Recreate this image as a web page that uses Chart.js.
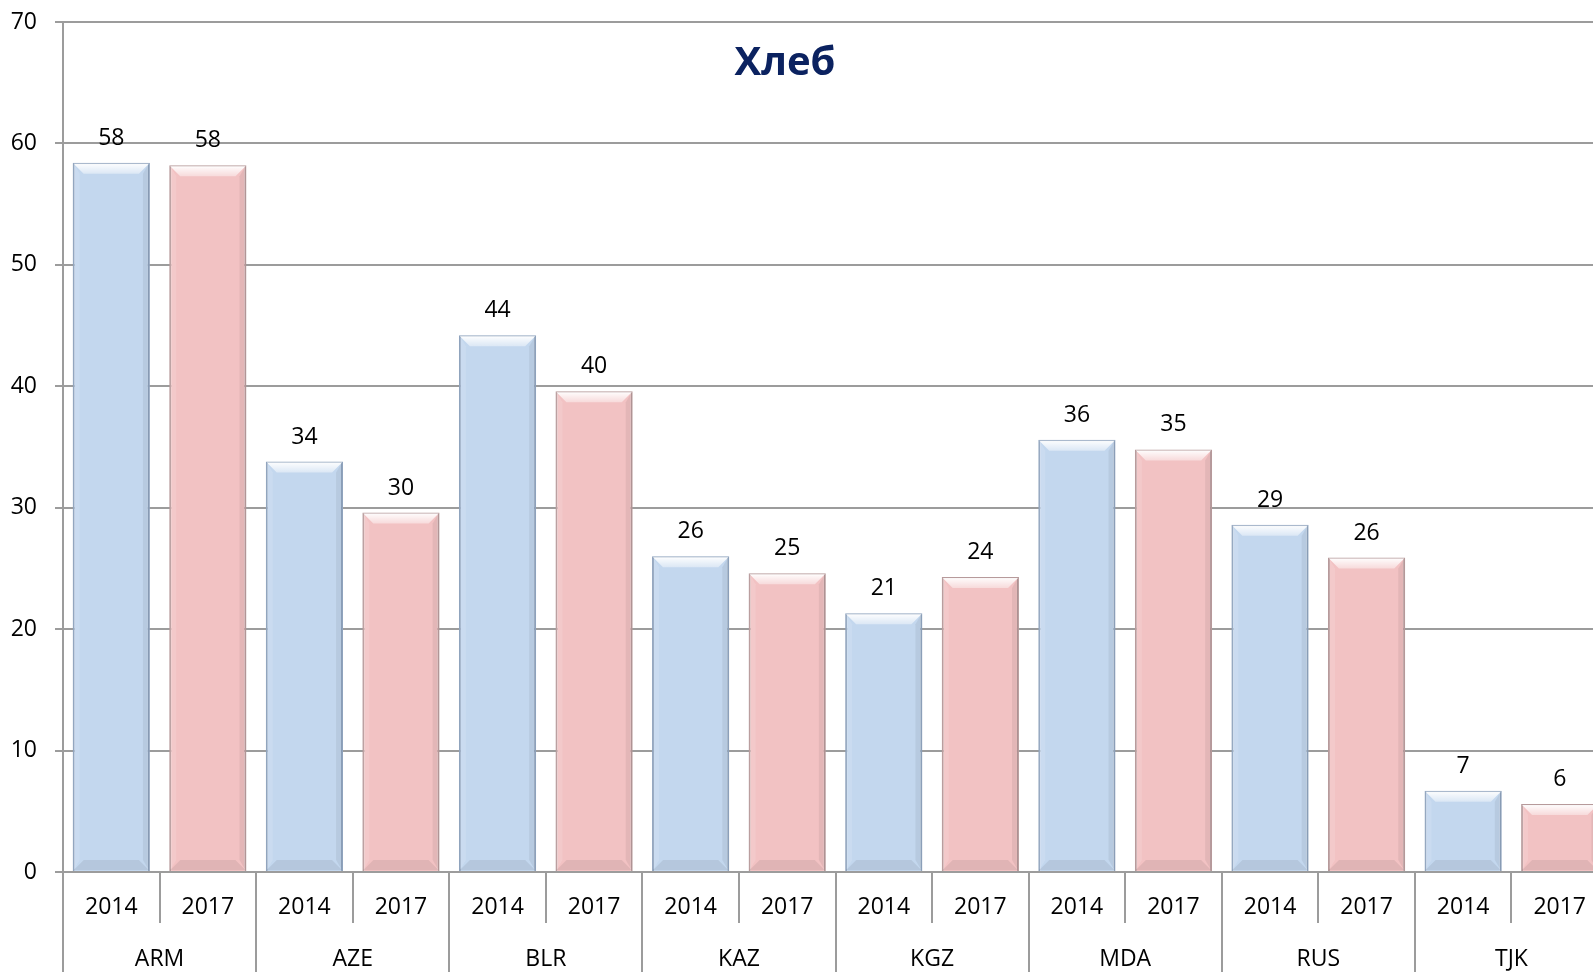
<!DOCTYPE html>
<html>
<head>
<meta charset="utf-8">
<script src="https://cdn.jsdelivr.net/npm/chart.js@4.4.1/dist/chart.umd.min.js"></script>
<style>
  html, body { margin: 0; padding: 0; overflow: hidden; background: #fff; }
  canvas { display: block; }
</style>
</head>
<body>
<canvas id="canvas" width="1608" height="972"></canvas>
<script>
var countries = ['ARM', 'AZE', 'BLR', 'KAZ', 'KGZ', 'MDA', 'RUS', 'TJK'];
var years = ['2014', '2017'];
var values2014 = [58.4, 33.8, 44.2, 26.0, 21.3, 35.6, 28.6, 6.7];
var values2017 = [58.2, 29.6, 39.6, 24.6, 24.3, 34.8, 25.9, 5.6];
var chartTitle = 'Хлеб';

var FONT = 'Open Sans';
var GRID = '#9c9c9c';

// flatten country/year pairs into one category axis
var labels = [];
var values = [];
var fills = [];
var edges = [];
countries.forEach(function (c, i) {
    labels.push(years[0]); values.push(values2014[i]);
    fills.push('#c3d7ee'); edges.push('#8fa3bd');
    labels.push(years[1]); values.push(values2017[i]);
    fills.push('#f2c2c3'); edges.push('#b79a9b');
});

var decor = {
    id: 'decor',
    afterDatasetsDraw: function (chart) {
        var ctx = chart.ctx;
        var meta = chart.getDatasetMeta(0);
        meta.data.forEach(function (bar, i) {
            var x0 = bar.x - bar.width / 2 + 1;
            var x1 = bar.x + bar.width / 2 - 1;
            var y0 = bar.y + 1;
            var y1 = bar.base - 1;
            var b = Math.min(10, (y1 - y0) / 2);
            ctx.save();
            // top bevel
            var g = ctx.createLinearGradient(0, y0, 0, y0 + b);
            g.addColorStop(0, 'rgba(255,255,255,0.95)');
            g.addColorStop(1, 'rgba(255,255,255,0.4)');
            ctx.fillStyle = g;
            ctx.beginPath();
            ctx.moveTo(x0, y0); ctx.lineTo(x1, y0);
            ctx.lineTo(x1 - b, y0 + b); ctx.lineTo(x0 + b, y0 + b);
            ctx.closePath(); ctx.fill();
            // sides
            ctx.fillStyle = 'rgba(0,0,0,0.06)';
            ctx.beginPath();
            ctx.moveTo(x1, y0); ctx.lineTo(x1, y1);
            ctx.lineTo(x1 - b * 0.6, y1 - b); ctx.lineTo(x1 - b * 0.6, y0 + b);
            ctx.closePath(); ctx.fill();
            ctx.fillStyle = 'rgba(255,255,255,0.12)';
            ctx.beginPath();
            ctx.moveTo(x0, y0); ctx.lineTo(x0, y1);
            ctx.lineTo(x0 + b * 0.6, y1 - b); ctx.lineTo(x0 + b * 0.6, y0 + b);
            ctx.closePath(); ctx.fill();
            // bottom
            ctx.fillStyle = 'rgba(0,0,0,0.07)';
            ctx.beginPath();
            ctx.moveTo(x0, y1); ctx.lineTo(x1, y1);
            ctx.lineTo(x1 - b, y1 - b); ctx.lineTo(x0 + b, y1 - b);
            ctx.closePath(); ctx.fill();
            ctx.restore();

            // value label
            ctx.save();
            ctx.fillStyle = '#000';
            ctx.font = '23px "' + FONT + '"';
            ctx.textAlign = 'center';
            ctx.textBaseline = 'alphabetic';
            ctx.fillText(Math.round(values[i]), bar.x, bar.y - 18);
            ctx.restore();
        });

        ctx.save();
        ctx.fillStyle = '#0b2260';
        ctx.font = 'bold 40px "' + FONT + '"';
        ctx.textAlign = 'center';
        ctx.textBaseline = 'alphabetic';
        ctx.fillText(chartTitle, 785, 75);
        ctx.restore();
    }
};

var tickFont = { family: FONT, size: 23 };

new Chart(document.getElementById('canvas').getContext('2d'), {
    type: 'bar',
    data: {
        labels: labels,
        datasets: [{
            data: values,
            backgroundColor: fills,
            borderColor: edges,
            borderWidth: 2,
            barPercentage: 0.8,
            categoryPercentage: 1.0
        }]
    },
    options: {
        responsive: false,
        animation: false,
        layout: { padding: { top: 22, left: 0, right: 0, bottom: 0 } },
        plugins: {
            legend: { display: false },
            tooltip: { enabled: false }
        },
        scales: {
            x: {
                type: 'category',
                position: 'bottom',
                offset: true,
                grid: { offset: true, drawOnChartArea: false, tickLength: 51, color: GRID, lineWidth: 2 },
                border: { display: true, color: GRID, width: 2 },
                ticks: { padding: -29, color: '#000', font: tickFont, maxRotation: 0, autoSkip: false },
                afterFit: function (s) { s.height = 51; }
            },
            x2: {
                type: 'category',
                labels: countries,
                position: 'bottom',
                offset: true,
                grid: { offset: true, drawOnChartArea: false, tickLength: 49, color: GRID, lineWidth: 2 },
                border: { display: false },
                ticks: { padding: -26, color: '#000', font: tickFont, maxRotation: 0, autoSkip: false },
                afterFit: function (s) { s.height = 49; }
            },
            y: {
                min: 0,
                max: 70,
                ticks: { stepSize: 10, padding: 18, color: '#000', font: tickFont },
                grid: { color: GRID, lineWidth: 2, tickLength: 8 },
                border: { color: GRID, width: 2 },
                afterFit: function (s) {
                    s.width = 63;
                    s.paddingTop = 0;
                    s.paddingBottom = 0;
                }
            }
        }
    },
    plugins: [decor]
});
</script>
</body>
</html>
